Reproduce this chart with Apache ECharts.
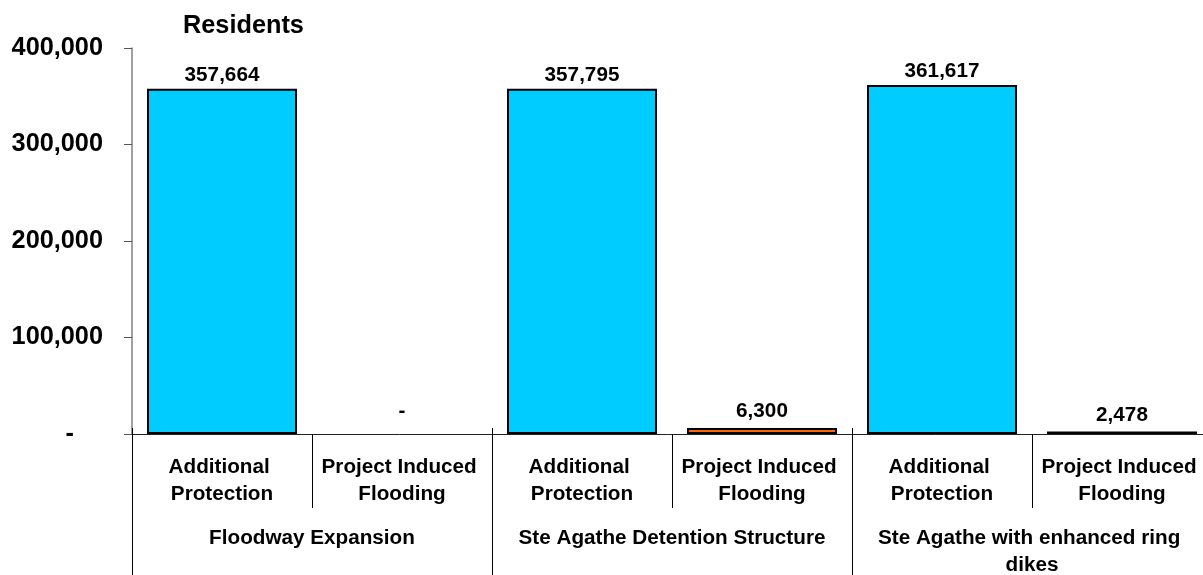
<!DOCTYPE html>
<html>
<head>
<meta charset="utf-8">
<script src="https://cdn.jsdelivr.net/npm/echarts@6/dist/echarts.min.js"></script>
<style>
html,body{margin:0;padding:0;background:#fff;}
#chart{width:1203px;height:575px;}
</style>
</head>
<body>
<div id="chart"></div>
<script>
var groups = ['Floodway Expansion', 'Ste Agathe Detention Structure', 'Ste Agathe with enhanced ring dikes'];
var subCategories = ['Additional Protection', 'Project Induced Flooding', 'Additional Protection', 'Project Induced Flooding', 'Additional Protection', 'Project Induced Flooding'];
var residents = [357664, 0, 357795, 6300, 361617, 2478];
var yTicks = [0, 100000, 200000, 300000, 400000];
var yTitle = 'Residents';

var FONT = 'Liberation Sans, Arial, sans-serif';
var colorProtect = '#00CCFF';
var colorInduced = '#FF6600';

function fmt(v) {
  return v === 0 ? '-' : v.toLocaleString('en-US');
}

var chart = echarts.init(document.getElementById('chart'));
var barData = residents.map(function (v, i) {
  var isProt = i % 2 === 0;
  var item = {
    value: v,
    itemStyle: { color: isProt ? colorProtect : colorInduced, borderColor: '#000', borderWidth: v === 0 ? 0 : 2 }
  };
  if (v === 0) item.label = { distance: 12 };
  else if (!isProt) item.label = { distance: 6 };
  return item;
});

chart.setOption({
  animation: false,
  title: {
    text: yTitle, left: 183, top: 14, padding: 0,
    textStyle: { fontFamily: FONT, fontWeight: 'bold', fontSize: 25.3, color: '#000' }
  },
  grid: { left: 132, width: 1080, top: 48, height: 386, containLabel: false, outerBoundsMode: 'none' },
  xAxis: [
    {
      type: 'category', data: subCategories, position: 'bottom',
      axisLine: { show: true, lineStyle: { color: '#222', width: 1 } },
      axisTick: { show: true, interval: 0, length: 74, lineStyle: { color: '#000', width: 1 } },
      axisLabel: {
        interval: 0, margin: 20, width: 170, overflow: 'break',
        fontFamily: FONT, fontWeight: 'bold', fontSize: 20.7, color: '#000', lineHeight: 27
      }
    },
    {
      type: 'category', data: groups, position: 'bottom', offset: 0,
      axisLine: { show: false },
      axisTick: { show: true, interval: 0, length: 145, lineStyle: { color: '#000', width: 1 } },
      axisLabel: {
        interval: 0, margin: 91, width: 330, overflow: 'break',
        fontFamily: FONT, fontWeight: 'bold', fontSize: 20.7, color: '#000', lineHeight: 27
      }
    },
    {
      type: 'category', data: groups, position: 'bottom', offset: 0,
      axisLine: { show: false },
      axisTick: { show: true, inside: true, interval: 0, length: 6, lineStyle: { color: '#000', width: 1 } },
      axisLabel: { show: false }
    }
  ],
  yAxis: {
    type: 'value', min: yTicks[0], max: yTicks[yTicks.length - 1], interval: yTicks[1] - yTicks[0],
    splitLine: { show: false },
    axisLine: { show: true, lineStyle: { color: '#808080', width: 1.5 } },
    axisTick: { show: true, length: 8, lineStyle: { color: '#555', width: 1 } },
    axisLabel: {
      margin: 29, fontFamily: FONT, fontWeight: 'bold', fontSize: 25.3, color: '#000',
      formatter: function (v) { return v === 0 ? '{d|-}' : fmt(v); },
      rich: { d: { fontFamily: FONT, fontWeight: 'bold', fontSize: 25.3, color: '#000', padding: [0, 29, 0, 0] } }
    }
  },
  series: [{
    type: 'bar', xAxisIndex: 0, data: barData, barWidth: 150,
    label: {
      show: true, position: 'top', distance: 3,
      fontFamily: FONT, fontWeight: 'bold', fontSize: 20.7, color: '#000',
      formatter: function (p) { return fmt(p.value); }
    }
  }]
});
</script>
</body>
</html>
